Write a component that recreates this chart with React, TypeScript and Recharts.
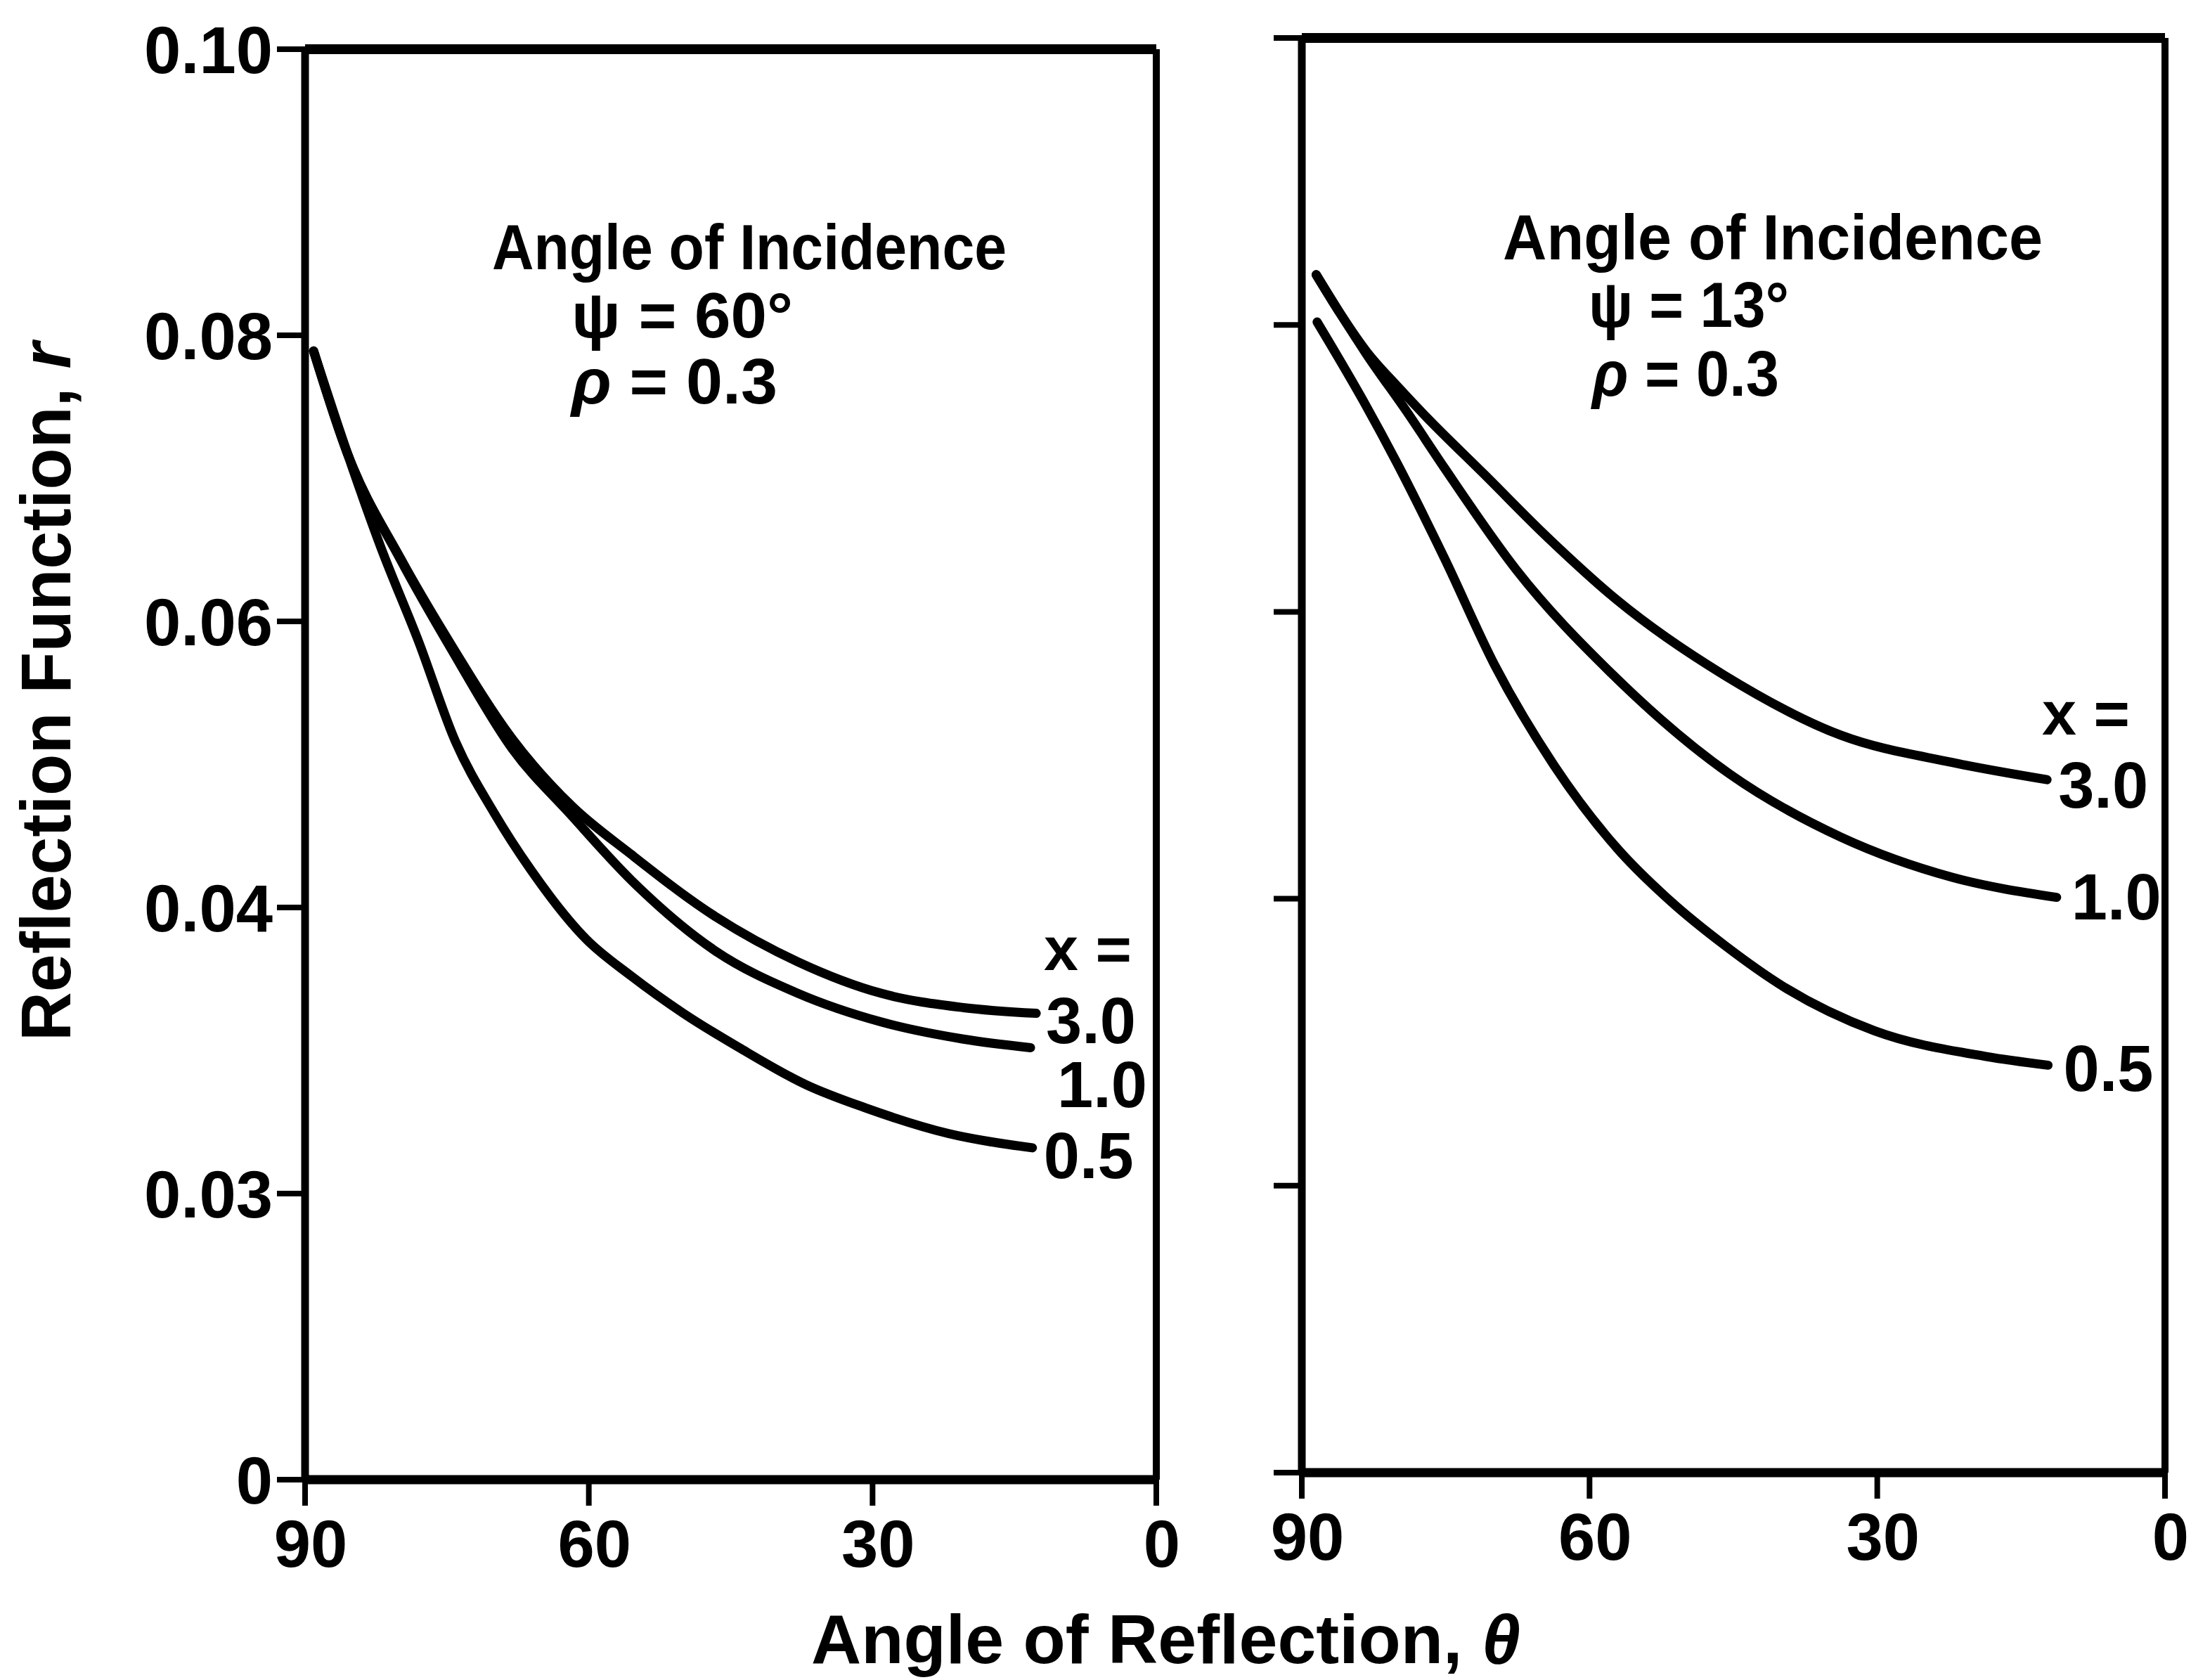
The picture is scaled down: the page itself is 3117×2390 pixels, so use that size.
import React from "react";
import { LineChart, Line, XAxis, YAxis, ReferenceLine, LabelList } from "recharts";

const FONT = "'Liberation Sans', Arial, Helvetica, sans-serif";

// the r axis is a broken scale: these values sit at equal spacing
const yTickValues = [0, 0.03, 0.04, 0.06, 0.08, 0.1];
const yTickLabels = ["0", "0.03", "0.04", "0.06", "0.08", "0.10"];
const xTicks = [90, 60, 30, 0];

// left panel, psi = 60 deg
const leftTheta30 = [89.1, 85.5, 79.9, 74.4, 68.1, 61.8, 55.5, 46.7, 37.9, 29.1, 20.4, 12.7];
const leftR30 = [0.0789, 0.0717, 0.0644, 0.0582, 0.0518, 0.0471, 0.0437, 0.0397, 0.0381, 0.037, 0.0365, 0.0363];
const leftTheta10 = [89.1, 85.5, 79.9, 74.4, 68.1, 61.8, 55.5, 46.7, 37.9, 29.1, 20.4, 13.3];
const leftR10 = [0.0789, 0.0717, 0.0643, 0.0579, 0.0511, 0.0464, 0.0419, 0.0385, 0.037, 0.036, 0.0354, 0.0351];
const leftTheta05 = [89.1, 85.5, 82, 78, 74.1, 70, 66.2, 60.3, 55.5, 50, 44.1, 37, 30.8, 22, 13.1];
const leftR05 = [0.0789, 0.0717, 0.0652, 0.0586, 0.0516, 0.0466, 0.0427, 0.0389, 0.0376, 0.0363, 0.0351, 0.0338, 0.033, 0.0321, 0.0316];

// right panel, psi = 13 deg
const rightTheta30 = [88.5, 86, 83.2, 80, 76.9, 71, 64.4, 57.1, 46, 33.8, 22.2, 12.3];
const rightR30 = [0.0835, 0.0808, 0.0781, 0.0757, 0.0735, 0.0696, 0.0652, 0.0608, 0.0556, 0.0514, 0.0495, 0.0483];
const rightTheta10 = [88.5, 86, 83.2, 79, 75.2, 67.6, 57.7, 45.4, 33.8, 22.2, 11.3];
const rightR10 = [0.0835, 0.0808, 0.0779, 0.0739, 0.0701, 0.0629, 0.0557, 0.0487, 0.0443, 0.0415, 0.0401];
const rightTheta05 = [88.4, 83.5, 80.1, 75.1, 69.9, 63.7, 57.1, 51.5, 46, 39.6, 30.3, 18.6, 12.2];
const rightR05 = [0.0802, 0.0746, 0.0704, 0.0637, 0.0563, 0.0493, 0.0435, 0.0399, 0.0384, 0.0369, 0.0354, 0.0345, 0.0342];

// position of a value on the broken axis (0..5)
const toAxis = (v: number) => {
  for (let i = 0; i < yTickValues.length - 1; i++) {
    const a = yTickValues[i];
    const b = yTickValues[i + 1];
    if (v <= b) return i + (v - a) / (b - a);
  }
  return yTickValues.length - 1;
};

const makePoints = (thetas: number[], rs: number[]) =>
  thetas.map((t, i) => ({ theta: t, r: rs[i], pos: toAxis(rs[i]) }));

const leftSeries = [
  { name: "3.0", data: makePoints(leftTheta30, leftR30), dx: 14, dy: 9 },
  { name: "1.0", data: makePoints(leftTheta10, leftR10), dx: 38, dy: 52 },
  { name: "0.5", data: makePoints(leftTheta05, leftR05), dx: 16, dy: 10 },
];

const rightSeries = [
  { name: "3.0", data: makePoints(rightTheta30, rightR30), dx: 16, dy: 7 },
  { name: "1.0", data: makePoints(rightTheta10, rightR10), dx: 21, dy: -2 },
  { name: "0.5", data: makePoints(rightTheta05, rightR05), dx: 22, dy: 4 },
];

const textStyle = { fill: "#000", fontFamily: FONT, fontWeight: 700 };

const XTick = (props: any) => {
  const { x, y, payload } = props;
  return (
    <text x={x + 8} y={y} dy="0.72em" textAnchor="middle" fontSize={94} {...textStyle}>
      {payload.value}
    </text>
  );
};

const YTick = (props: any) => {
  const { x, y, payload } = props;
  return (
    <text x={x} y={y} dy="0.36em" textAnchor="end" fontSize={94} {...textStyle}>
      {yTickLabels[payload.value]}
    </text>
  );
};

const NoTick = () => <g />;

const endLabel = (name: string, last: number, dx: number, dy: number) => (props: any) => {
  const { x, y, index } = props;
  if (index !== last) return null;
  return (
    <text x={x + dx} y={y + dy + 33} textAnchor="start" fontSize={92} {...textStyle}>
      {name}
    </text>
  );
};

interface PanelProps {
  series: typeof leftSeries;
  width: number;
  top: number;
  right: number;
  yWidth: number;
  xHeight: number;
  labels: boolean;
}

const Panel: React.FC<PanelProps> = ({ series, width, top, right, yWidth, xHeight, labels }) => (
  <LineChart width={width} height={2390} margin={{ top, right, bottom: 0, left: 0 }}>
    <XAxis
      type="number"
      dataKey="theta"
      domain={[0, 90]}
      reversed
      ticks={xTicks}
      interval={0}
      height={xHeight}
      tickSize={37}
      tickMargin={19}
      axisLine={{ stroke: "#000", strokeWidth: 13 }}
      tickLine={{ stroke: "#000", strokeWidth: 8 }}
      tick={<XTick />}
    />
    <YAxis
      type="number"
      domain={[0, 5]}
      ticks={[0, 1, 2, 3, 4, 5]}
      interval={0}
      width={yWidth}
      tickSize={40}
      tickMargin={6}
      axisLine={{ stroke: "#000", strokeWidth: 11 }}
      tickLine={{ stroke: "#000", strokeWidth: 8 }}
      tick={labels ? <YTick /> : <NoTick />}
    />
    <ReferenceLine y={5} stroke="#000" strokeWidth={14} />
    <ReferenceLine x={0} stroke="#000" strokeWidth={10} />
    {series.map((s) => (
      <Line
        key={s.name}
        data={s.data}
        dataKey="pos"
        type="monotone"
        stroke="#000"
        strokeWidth={13}
        strokeLinecap="round"
        dot={false}
        isAnimationActive={false}
      >
        <LabelList dataKey="pos" content={endLabel(s.name, s.data.length - 1, s.dx, s.dy)} />
      </Line>
    ))}
  </LineChart>
);

const Note = ({ x, y, w, children, size = 91 }: any) => (
  <text x={x} y={y} fontSize={size} textLength={w} lengthAdjust="spacingAndGlyphs" {...textStyle}>
    {children}
  </text>
);

export default function App() {
  return (
    <div style={{ position: "absolute", left: 0, top: 0, width: 3117, height: 2390, background: "#fff" }}>
      <div style={{ position: "absolute", left: 0, top: 0 }}>
        <Panel series={leftSeries} width={1700} top={70} right={55} yWidth={434} xHeight={285} labels />
      </div>
      <div style={{ position: "absolute", left: 1700, top: 0 }}>
        <Panel series={rightSeries} width={1417} top={54} right={37} yWidth={152} xHeight={295} labels={false} />
      </div>
      <svg
        width={3117}
        height={2390}
        style={{ position: "absolute", left: 0, top: 0, pointerEvents: "none" }}
      >
        <Note x={700} y={383} w={732}>Angle of Incidence</Note>
        <Note x={813} y={480} w={315}>ψ = 60°</Note>
        <Note x={813} y={574} w={293}>
          <tspan fontStyle="italic">ρ</tspan> = 0.3
        </Note>
        <text x={1485} y={1380} fontSize={88} {...textStyle}>x =</text>

        <Note x={2138} y={369} w={768}>Angle of Incidence</Note>
        <Note x={2260} y={465} w={285}>ψ = 13°</Note>
        <Note x={2265} y={563} w={266}>
          <tspan fontStyle="italic">ρ</tspan> = 0.3
        </Note>
        <text x={2905} y={1045} fontSize={88} {...textStyle}>x =</text>

        <Note x={1154} y={2366} w={1009} size={98}>
          Angle of Reflection, <tspan fontStyle="italic">θ</tspan>
        </Note>
        <text
          x={100}
          y={984}
          transform="rotate(-90 100 984)"
          textAnchor="middle"
          fontSize={100}
          textLength={994}
          lengthAdjust="spacingAndGlyphs"
          {...textStyle}
        >
          Reflection Function, <tspan fontStyle="italic">r</tspan>
        </text>
      </svg>
    </div>
  );
}
